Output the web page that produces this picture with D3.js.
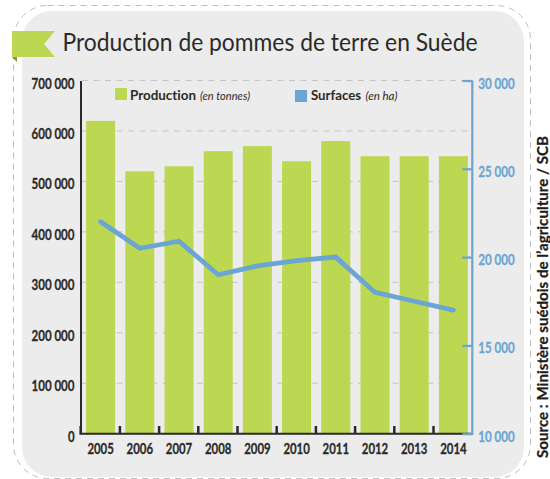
<!DOCTYPE html>
<html><head><meta charset="utf-8">
<script src="https://cdn.jsdelivr.net/npm/d3@7"></script>
<style>html,body{margin:0;padding:0;background:#fff}svg{display:block}text{font-variant-ligatures:none}</style>
</head><body><div id="c"></div>
<script>
const years=["2005","2006","2007","2008","2009","2010","2011","2012","2013","2014"];
const production=[620000,520000,530000,560000,570000,540000,580000,550000,550000,550000];
const surfaces=[22000,20500,20900,19000,19500,19800,20000,18000,17500,17000];
const leftTicks=[0,100000,200000,300000,400000,500000,600000,700000];
const rightTicks=[10000,15000,20000,25000,30000];
const titleText="Production de pommes de terre en Suède";
const sourceText="Source : Ministère suédois de l’agriculture / SCB";

const W=550,H=479,green="#bcd751",blue="#6ba5d3",dark="#2b2a29";
const sans="Lato,'Open Sans',sans-serif";
const svg=d3.select("#c").append("svg").attr("width",W).attr("height",H);
const fmt=d3.formatLocale({decimal:",",thousands:"\u00a0",grouping:[3],currency:["","€"]}).format(",d");
// condensed labels: width from digit count
const fit=s=>{const t=String(s);return t.replace(/\D/g,"").length*6.6+(t.length>3&&/\D/.test(t)?3.4:0);};
function styleLabels(sel,fill){
  sel.attr("font-family",sans).attr("font-weight","700").attr("font-size",15).attr("fill",fill)
    .attr("stroke",fill).attr("stroke-width",.3)
    .attr("lengthAdjust","spacingAndGlyphs").attr("textLength",function(){return fit(this.textContent);});
}

svg.append("rect").attr("x",22).attr("y",11).attr("width",502).attr("height",466).attr("rx",30).attr("fill","#ececec");
svg.append("rect").attr("x",13.5).attr("y",5.5).attr("width",517).attr("height",473).attr("rx",34)
  .attr("fill","none").attr("stroke","#bdbdbd").attr("stroke-width",1).attr("stroke-dasharray","6 5");

const x=d3.scaleBand().domain(years).range([81,473]).paddingInner(.26).paddingOuter(.13);
const yL=d3.scaleLinear().domain([0,700000]).range([433.7,80.5]);
const yR=d3.scaleLinear().domain([10000,30000]).range([433.7,80.5]);

svg.append("g").selectAll("line").data(leftTicks.slice(1)).join("line")
  .attr("x1",82).attr("x2",469).attr("y1",d=>yL(d)).attr("y2",d=>yL(d))
  .attr("stroke","#c4c4c4").attr("stroke-width",1).attr("stroke-dasharray","6 5.5");

svg.append("g").selectAll("rect").data(years).join("rect")
  .attr("x",d=>x(d)).attr("width",x.bandwidth())
  .attr("y",(d,i)=>yL(production[i])).attr("height",(d,i)=>yL(0)-yL(production[i]))
  .attr("fill",green);

// Bottom tick marks between the bars, plus one on the left axis
svg.append("g").selectAll("line").data(years).join("line")
  .attr("x1",d=>x(d)-5.4).attr("x2",d=>x(d)-5.4)
  .attr("y1",426).attr("y2",yL(0))
  .attr("stroke",dark).attr("stroke-width",2.5);

// Left axis
const gL=svg.append("g").attr("transform","translate(80.5,0)")
  .call(d3.axisLeft(yL).tickValues(leftTicks).tickSize(0).tickPadding(6).tickFormat(fmt));
gL.select(".domain").attr("stroke",dark).attr("stroke-width",2);
styleLabels(gL.selectAll("text"),dark);
gL.selectAll("text").attr("dy","0.5em");

// Bottom axis
const gB=svg.append("g").attr("transform","translate(0,433.7)")
  .call(d3.axisBottom(x).tickSize(0).tickPadding(6));
gB.select(".domain").attr("stroke",dark).attr("stroke-width",2).attr("d","M79.5,0H473");
styleLabels(gB.selectAll("text"),dark);
gB.selectAll("text").attr("y",20.3).attr("dy",0);

// Right axis
const gR=svg.append("g").attr("transform","translate(472.3,0)")
  .call(d3.axisRight(yR).tickValues(rightTicks).tickSize(-10).tickPadding(6).tickFormat(fmt));
gR.select(".domain").attr("stroke",blue).attr("stroke-width",2.2).attr("d","M0,80.5V434.5");
gR.selectAll(".tick line").attr("stroke",blue).attr("stroke-width",2.2);
styleLabels(gR.selectAll("text"),blue);
gR.selectAll("text").attr("x",6).attr("dy","0.5em");

// Line
const line=d3.line().x((d,i)=>x(years[i])+x.bandwidth()/2).y(d=>yR(d));
svg.append("path").datum(surfaces).attr("d",line).attr("fill","none")
  .attr("stroke",blue).attr("stroke-width",4.8).attr("stroke-linejoin","miter").attr("stroke-linecap","round");

// Title + ribbon
svg.append("polygon").attr("points","12,31 55,31 44,44 55,57 12,57").attr("fill",green);
svg.append("polygon").attr("points","12,57 17,57 17,62").attr("fill","#7f9a3a");
svg.append("text").attr("x",62.5).attr("y",51).text(titleText)
  .attr("font-family",sans).attr("font-size",25).attr("fill",dark).attr("textLength",415).attr("lengthAdjust","spacingAndGlyphs");

// Legend
const legendText=(tx,ty,s,len,bold)=>svg.append("text").attr("x",tx).attr("y",ty).text(s)
  .attr("font-family",sans).attr("font-weight",bold?"700":"400").attr("font-style",bold?"normal":"italic")
  .attr("font-size",bold?13:10.5).attr("fill",dark).attr("textLength",len).attr("lengthAdjust","spacingAndGlyphs");
svg.append("rect").attr("x",115).attr("y",88).attr("width",12).attr("height",12).attr("fill",green);
legendText(130,100,"Production",66,true);
legendText(200,100,"(en tonnes)",50,false);
svg.append("rect").attr("x",295).attr("y",90).attr("width",12).attr("height",12).attr("fill",blue);
legendText(311,100,"Surfaces",50,true);
legendText(365.5,100,"(en ha)",32,false);

// Source
svg.append("text").attr("transform","translate(548,458) rotate(-90)").text(sourceText)
  .attr("font-family",sans).attr("font-weight","700").attr("font-size",14.5).attr("fill","#1d1d1b").attr("stroke","#1d1d1b").attr("stroke-width",.25).attr("textLength",322).attr("lengthAdjust","spacingAndGlyphs");
</script></body></html>
